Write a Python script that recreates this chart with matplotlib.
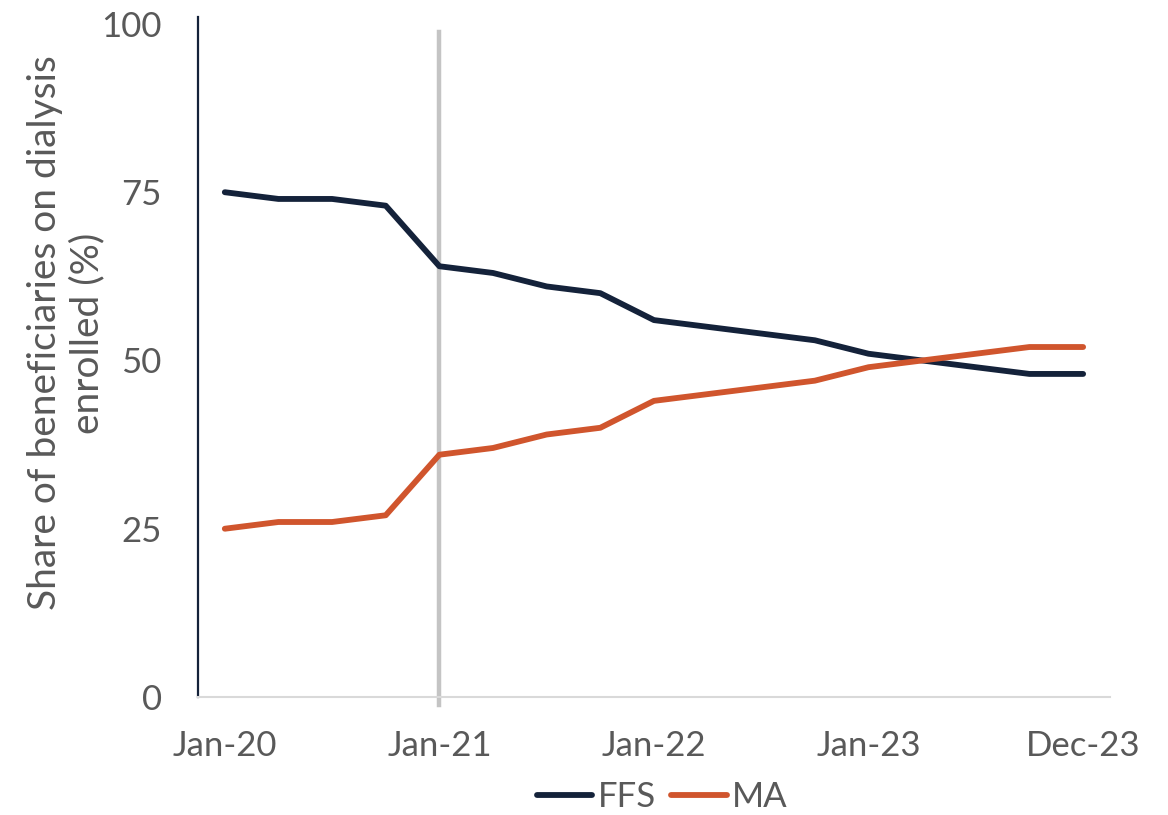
import matplotlib
matplotlib.use("Agg")
from matplotlib import pyplot as plt

# quarterly points, Jan-20 .. Dec-23
periods = ['Jan-20', 'Apr-20', 'Jul-20', 'Oct-20',
           'Jan-21', 'Apr-21', 'Jul-21', 'Oct-21',
           'Jan-22', 'Apr-22', 'Jul-22', 'Oct-22',
           'Jan-23', 'Apr-23', 'Jul-23', 'Oct-23', 'Dec-23']
ffs = [75, 74, 74, 73, 64, 63, 61, 60, 56, 55, 54, 53, 51, 50, 49, 48, 48]
ma = [25, 26, 26, 27, 36, 37, 39, 40, 44, 45, 46, 47, 49, 50, 51, 52, 52]
shown_labels = ['Jan-20', 'Jan-21', 'Jan-22', 'Jan-23', 'Dec-23']
marker_period = 'Jan-21'

plt.rcParams['font.family'] = ['Lato', 'DejaVu Sans']

fig = plt.figure(figsize=(11.68, 8.15), dpi=100)
ax = fig.add_axes([0.1695, 0.1448, 0.7808, 0.8258])

x = list(range(len(periods)))
ax.plot(x, ffs, color='#14223A', lw=4.2, solid_capstyle='round', label='FFS', zorder=3)
ax.plot(x, ma, color='#D0552D', lw=4.2, solid_capstyle='round', label='MA', zorder=3)

ax.axvline(periods.index(marker_period), ymin=-0.012, ymax=0.988, color='#C4C4C4',
           lw=3.2, clip_on=False, zorder=2)

ax.set_xlim(-0.5, len(periods) - 0.5)
ax.set_ylim(0, 100)
ax.set_yticks([0, 25, 50, 75, 100])
ax.set_xticks([periods.index(p) for p in shown_labels])
ax.set_xticklabels(shown_labels)

ax.tick_params(axis='both', length=0, labelsize=25, colors='#595959')
ax.tick_params(axis='y', pad=26)
ax.tick_params(axis='x', pad=24)
for s in ['top', 'right']:
    ax.spines[s].set_visible(False)
ax.spines['left'].set_color('#14223A')
ax.spines['left'].set_linewidth(1.6)
ax.spines['left'].set_bounds(0, 101)
ax.spines['bottom'].set_color('#D9D9D9')
ax.spines['bottom'].set_linewidth(1.5)

ax.set_ylabel('Share of beneficiaries on dialysis\nenrolled (%)', fontsize=28,
              color='#595959', linespacing=1.2)
ax.yaxis.set_label_coords(-0.102, 0.541)

fig.legend(*ax.get_legend_handles_labels(), loc='center', bbox_to_anchor=(0.567, 0.022),
           ncol=2, frameon=False, fontsize=25, handlelength=1.6, handletextpad=0.15,
           columnspacing=0.45, labelcolor='#595959')

fig.savefig('out.png', dpi=100)
